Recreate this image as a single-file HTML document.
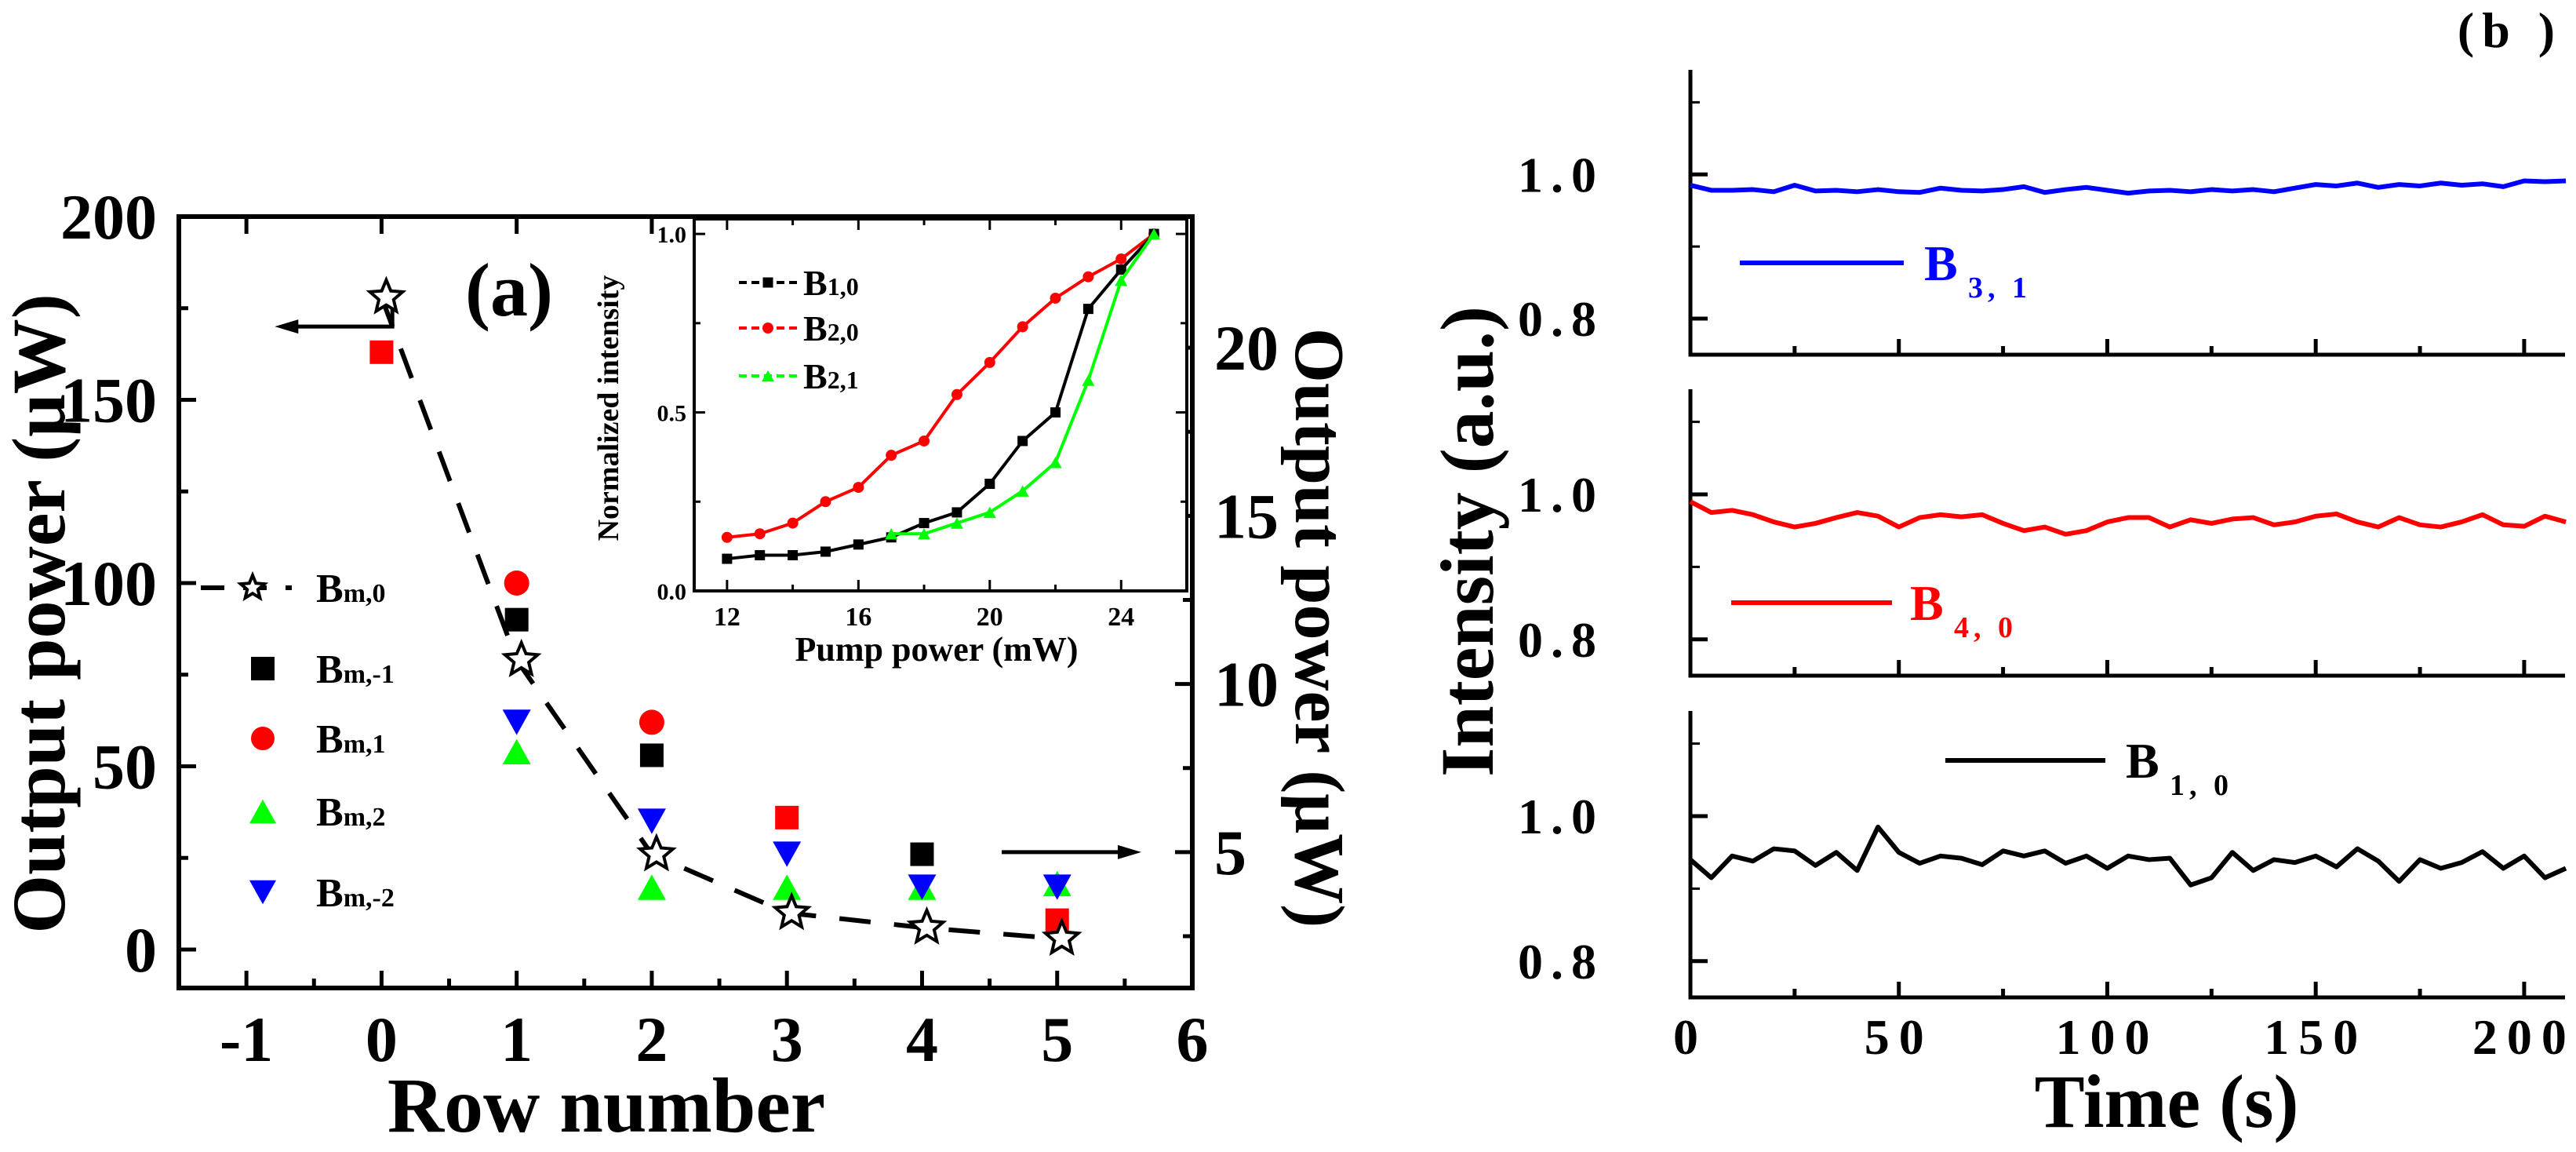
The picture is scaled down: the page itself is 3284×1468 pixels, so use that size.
<!DOCTYPE html>
<html><head><meta charset="utf-8"><style>
html,body{margin:0;padding:0;background:#fff;}
svg{display:block;font-family:"Liberation Serif",serif;font-weight:bold;}
</style></head><body>
<svg id="fig" width="3284" height="1468" viewBox="0 0 3284 1468" xmlns="http://www.w3.org/2000/svg">
<g id="pa"></g>
<g id="inset"></g>
<g id="pb"></g>
</svg>
<script>
// ---- Panel (a) data ----
const rowsStar = [0,1,2,3,4,5];
const starVals = [178,79,26,10,6,3];
const rowsBlackSq = [1,2,4];
const blackSqVals = [90,53,26];
const rowsRedSq = [0,3,5];
const redSqVals = [163,36,8];
const rowsRedCirc = [1,2];
const redCircVals = [100,62];
const rowsGreen = [1,2,3,4,5];
const greenVals = [54,17,17,17,18];
const rowsBlue = [1,2,3,4,5];
const blueVals = [62,35,26,17,17];
const xTicksA = [-1,0,1,2,3,4,5,6];
const yTicksA = [0,50,100,150,200];
const yTicksRight = [5,10,15,20];
// ---- Inset data ----
const pumpB10 = [12,13,14,15,16,17,18,19,20,21,22,23,24,25];
const valsB10 = [0.09,0.10,0.10,0.11,0.13,0.15,0.19,0.22,0.30,0.42,0.50,0.79,0.90,1.0];
const pumpB20 = [12,13,14,15,16,17,18,19,20,21,22,23,24,25];
const valsB20 = [0.15,0.16,0.19,0.25,0.29,0.38,0.42,0.55,0.64,0.74,0.82,0.88,0.93,1.0];
const pumpB21 = [17,18,19,20,21,22,23,24,25];
const valsB21 = [0.16,0.16,0.19,0.22,0.28,0.36,0.59,0.87,1.0];
const insetXTicks = [12,16,20,24];
const insetYTicks = ["0.0","0.5","1.0"];
// ---- Panel (b) data ----
const timeStep = 5;
const blueTrace = [0.985,0.978,0.978,0.979,0.976,0.985,0.977,0.978,0.976,0.979,0.976,0.975,0.981,0.978,0.977,0.979,0.983,0.975,0.979,0.982,0.978,0.974,0.977,0.978,0.976,0.979,0.977,0.979,0.976,0.981,0.986,0.984,0.988,0.982,0.986,0.984,0.988,0.985,0.987,0.983,0.991,0.990,0.991];
const redTrace = [0.99,0.975,0.978,0.972,0.962,0.955,0.960,0.968,0.975,0.970,0.955,0.968,0.972,0.969,0.972,0.960,0.950,0.955,0.945,0.950,0.962,0.968,0.968,0.955,0.965,0.960,0.966,0.968,0.958,0.962,0.970,0.973,0.962,0.955,0.968,0.958,0.955,0.962,0.972,0.958,0.956,0.970,0.962];
const blackTrace = [0.94,0.915,0.945,0.938,0.955,0.952,0.932,0.950,0.925,0.985,0.950,0.935,0.945,0.942,0.933,0.952,0.945,0.952,0.935,0.945,0.928,0.945,0.940,0.942,0.905,0.915,0.950,0.925,0.940,0.936,0.945,0.930,0.955,0.938,0.910,0.940,0.928,0.936,0.951,0.928,0.945,0.915,0.928];
const timeTicks = [0,50,100,150,200];
const intTicks = ["0.8","1.0"];

const NS="http://www.w3.org/2000/svg";
function mk(parent,tag,attrs,text){const e=document.createElementNS(NS,tag);for(const k in attrs)e.setAttribute(k,attrs[k]);if(text!==undefined)e.textContent=text;parent.appendChild(e);return e;}

// ===== Panel a =====
const pa=document.getElementById('pa');
const A={l:228,r:1520,t:276,b:1259,x0:-1.5,x1:6,y0:-10.5,y1:200};
const ax=v=>A.l+(v-A.x0)/(A.x1-A.x0)*(A.r-A.l);
const ay=v=>A.b-(v-A.y0)/(A.y1-A.y0)*(A.b-A.t);
const ayR=v=>A.b-(v-0.96)/(23.9-0.96)*(A.b-A.t);
let e=mk(pa,'rect',{x:A.l,y:A.t,width:A.r-A.l,height:A.b-A.t,fill:'none',stroke:'#000','stroke-width':6});


for(const t of xTicksA){
 e=mk(pa,'line',{x1:ax(t),x2:ax(t),y1:A.b,y2:A.b-22,stroke:'#000','stroke-width':5});
 
 
 e=mk(pa,'line',{x1:ax(t),x2:ax(t),y1:A.t,y2:A.t+22,stroke:'#000','stroke-width':5});
 
 
 if(t<6){e=mk(pa,'line',{x1:ax(t+0.5),x2:ax(t+0.5),y1:A.b,y2:A.b-12,stroke:'#000','stroke-width':5});
 
 }
 e=mk(pa,'text',{x:ax(t),y:1352,'font-size':82,'text-anchor':'middle'},String(t));
 
 
}
for(const t of yTicksA){
 e=mk(pa,'line',{x1:A.l,x2:A.l+22,y1:ay(t),y2:ay(t),stroke:'#000','stroke-width':5});
 
 
 if(t<200){e=mk(pa,'line',{x1:A.l,x2:A.l+12,y1:ay(t+25),y2:ay(t+25),stroke:'#000','stroke-width':5});
 
 }
 e=mk(pa,'text',{x:200,y:ay(t)+28,'font-size':82,'text-anchor':'end'},String(t));
 
 
}
for(const t of yTicksRight){
 e=mk(pa,'line',{x1:A.r,x2:A.r-22,y1:ayR(t),y2:ayR(t),stroke:'#000','stroke-width':5});
 
 
 e=mk(pa,'line',{x1:A.r,x2:A.r-12,y1:ayR(t-2.5),y2:ayR(t-2.5),stroke:'#000','stroke-width':5});
 
 
 e=mk(pa,'text',{x:1548,y:ayR(t)+28,'font-size':82,'text-anchor':'start'},String(t));
 
 
}
e=mk(pa,'text',{x:773,y:1442,'font-size':100,'text-anchor':'middle'},'Row number');


e=mk(pa,'text',{x:0,y:0,'font-size':96,'text-anchor':'middle',transform:'translate(82,782) rotate(-90)'},'Output power (μW)');


e=mk(pa,'text',{x:649,y:402,'font-size':96,'text-anchor':'middle'},'(a)');



function star(g,cx,cy,r,name){
 let p='';for(let i=0;i<10;i++){const rr=i%2?r*0.45:r;const a=-Math.PI/2+i*Math.PI/5;p+=(i?'L':'M')+(cx+rr*Math.cos(a)).toFixed(1)+','+(cy+rr*Math.sin(a)).toFixed(1);}
 const s=mk(g,'path',{d:p+'Z',fill:'#fff',stroke:'#000','stroke-width':4});
 
 
}
function sq(g,cx,cy,s,c,name){const el=mk(g,'rect',{x:cx-s/2,y:cy-s/2,width:s,height:s,fill:c});}
function circ(g,cx,cy,r,c,name){const el=mk(g,'circle',{cx:cx,cy:cy,r:r,fill:c});}
function tri(g,cx,cy,s,c,up,name){const h=s*0.9;const d=up?`M${cx},${cy-h/2}L${cx+s/2},${cy+h/2}L${cx-s/2},${cy+h/2}Z`:`M${cx},${cy+h/2}L${cx+s/2},${cy-h/2}L${cx-s/2},${cy-h/2}Z`;const el=mk(g,'path',{d:d,fill:c});}

// dashed line through stars
let dpts=rowsStar.map((r,i)=>ax(r)+','+ay(starVals[i])).join(' ');
e=mk(pa,'polyline',{points:dpts,fill:'none',stroke:'#000','stroke-width':6,'stroke-dasharray':'40,30'});


// arrows
e=mk(pa,'path',{d:`M${ax(0.08)},${ay(178)} L${ax(0.08)},${ay(170)} L${ax(-0.72)},${ay(170)}`,fill:'none',stroke:'#000','stroke-width':5});


e=mk(pa,'path',{d:`M${ax(-0.79)},${ay(170)} l30,-9 l0,18 Z`,fill:'#000'});


e=mk(pa,'line',{x1:1277,x2:1425,y1:ayR(5),y2:ayR(5),stroke:'#000','stroke-width':5});


e=mk(pa,'path',{d:`M1455,${ayR(5)} l-30,-9 l0,18 Z`,fill:'#000'});



rowsRedSq.forEach((r,i)=>sq(pa,ax(r),ay(redSqVals[i]),30,'#f00','bm1-square'));
rowsBlackSq.forEach((r,i)=>sq(pa,ax(r),ay(blackSqVals[i]),30,'#000','bm-1-point'));
rowsRedCirc.forEach((r,i)=>circ(pa,ax(r),ay(redCircVals[i]),16,'#f00','bm1-point'));
rowsGreen.forEach((r,i)=>tri(pa,ax(r),ay(greenVals[i]),36,'#0f0',true,'bm2-point'));
rowsBlue.forEach((r,i)=>tri(pa,ax(r),ay(blueVals[i]),36,'#00f',false,'bm-2-point'));
rowsStar.forEach((r,i)=>star(pa,ax(r)+6,ay(starVals[i]),22,'bm0-point'));

// legend a
const lgY=[749,852,941,1034,1137];
const lgN=['m,0','m,-1','m,1','m,2','m,-2'];
e=mk(pa,'line',{x1:256,x2:372,y1:lgY[0],y2:lgY[0],stroke:'#000','stroke-width':6,'stroke-dasharray':'30,24'});


star(pa,322,lgY[0],16,'legend-marker-bm0');
sq(pa,335,lgY[1],30,'#000','legend-marker-bm-1');
circ(pa,335,lgY[2],15,'#f00','legend-marker-bm1');
tri(pa,335,lgY[3],34,'#0f0',true,'legend-marker-bm2');
tri(pa,335,lgY[4],34,'#00f',false,'legend-marker-bm-2');
lgN.forEach((n,i)=>{const t=mk(pa,'text',{x:403,y:lgY[i]+18,'font-size':52},'B');mk(t,'tspan',{'font-size':34},n);
 
 });

// ===== Inset =====
const ig=document.getElementById('inset');
const I={l:885,r:1513,t:279,b:753,x0:11,x1:26,y0:0,y1:1.042};
const ix=v=>I.l+(v-I.x0)/(I.x1-I.x0)*(I.r-I.l);
const iy=v=>I.b-(v-I.y0)/(I.y1-I.y0)*(I.b-I.t);
e=mk(ig,'rect',{x:I.l,y:I.t,width:I.r-I.l,height:I.b-I.t,fill:'#fff',stroke:'#000','stroke-width':4});


for(let v=12;v<=26;v+=2){const big=insetXTicks.includes(v);
 e=mk(ig,'line',{x1:ix(v),x2:ix(v),y1:I.b,y2:I.b-(big?14:8),stroke:'#000','stroke-width':3});
 
 
 e=mk(ig,'line',{x1:ix(v),x2:ix(v),y1:I.t,y2:I.t+(big?14:8),stroke:'#000','stroke-width':3});
 
 }
insetXTicks.forEach(v=>{e=mk(ig,'text',{x:ix(v),y:797,'font-size':34,'text-anchor':'middle'},String(v));
 
 });
for(let v=0;v<=1.0001;v+=0.25){const big=Math.abs(v*2-Math.round(v*2))<0.01;
 e=mk(ig,'line',{x1:I.l,x2:I.l+(big?14:8),y1:iy(v),y2:iy(v),stroke:'#000','stroke-width':3});
 
 
 e=mk(ig,'line',{x1:I.r,x2:I.r-(big?14:8),y1:iy(v),y2:iy(v),stroke:'#000','stroke-width':3});
 
 }
insetYTicks.forEach(s=>{e=mk(ig,'text',{x:875,y:iy(parseFloat(s))+11,'font-size':30,'text-anchor':'end'},s);
 
 });
e=mk(ig,'text',{x:1194,y:842,'font-size':44,'text-anchor':'middle'},'Pump power (mW)');


e=mk(ig,'text',{x:0,y:0,'font-size':38,'text-anchor':'middle',transform:'translate(788,520) rotate(-90)'},'Normalized intensity');


function iseries(xs,ys,c,kind,name){
 const l=mk(ig,'polyline',{points:xs.map((x,i)=>ix(x)+','+iy(ys[i])).join(' '),fill:'none',stroke:c,'stroke-width':4});
 
 
 xs.forEach((x,i)=>{if(kind==='s')sq(ig,ix(x),iy(ys[i]),13,c,name+'-point');else if(kind==='c')circ(ig,ix(x),iy(ys[i]),7,c,name+'-point');else tri(ig,ix(x),iy(ys[i]),16,c,true,name+'-point');});
}
iseries(pumpB20,valsB20,'#f00','c','b20');
iseries(pumpB10,valsB10,'#000','s','b10');
iseries(pumpB21,valsB21,'#0f0','t','b21');
const ilY=[360,418,479];const ilC=['#000','#f00','#0f0'];const ilK=['s','c','t'];const ilN=['1,0','2,0','2,1'];
ilY.forEach((y,i)=>{e=mk(ig,'line',{x1:942,x2:1016,y1:y,y2:y,stroke:ilC[i],'stroke-width':4,'stroke-dasharray':'10,6'});
 
 
 if(ilK[i]==='s')sq(ig,979,y,13,ilC[i],'inset-legend-marker');else if(ilK[i]==='c')circ(ig,979,y,7,ilC[i],'inset-legend-marker');else tri(ig,979,y,16,ilC[i],true,'inset-legend-marker');
 const t=mk(ig,'text',{x:1024,y:y+16,'font-size':46},'B');mk(t,'tspan',{'font-size':32},ilN[i]);
 
 });

// ===== Panel b =====
const pb=document.getElementById('pb');
const B={l:2155,r:3270,x0:0,x1:209.8,y0:0.75,y1:1.145};
const subs=[{t:89,b:452,d:blueTrace,c:'#00f',n:'b31'},{t:496,b:861,d:redTrace,c:'#f00',n:'b40'},{t:906,b:1271,d:blackTrace,c:'#000',n:'b10'}];
const bx=v=>B.l+(v-B.x0)/(B.x1-B.x0)*(B.r-B.l);
subs.forEach((s,k)=>{
 const by=v=>s.b-(v-B.y0)/(B.y1-B.y0)*(s.b-s.t);
 e=mk(pb,'path',{d:`M${B.l},${s.t} L${B.l},${s.b} L${B.r},${s.b}`,fill:'none',stroke:'#000','stroke-width':5});
 
 
 for(let v=0;v<=200;v+=25){e=mk(pb,'line',{x1:bx(v),x2:bx(v),y1:s.b,y2:s.b-(v%50===0?20:11),stroke:'#000','stroke-width':5});
  
  }
 for(let v=0.8;v<=1.11;v+=0.1){const big=Math.abs(v-0.8)<0.01||Math.abs(v-1.0)<0.01;
  e=mk(pb,'line',{x1:B.l,x2:B.l+(big?22:12),y1:by(v),y2:by(v),stroke:'#000','stroke-width':big?5:3});
  
  }
 intTicks.forEach(tl=>{e=mk(pb,'text',{x:2045,y:by(parseFloat(tl))+22,'font-size':64,'text-anchor':'end','letter-spacing':10},tl);
  
  });
 const pts=s.d.map((v,i)=>bx(i*timeStep)+','+by(v)).join(' ');
 e=mk(pb,'polyline',{points:pts,fill:'none',stroke:s.c,'stroke-width':6,'stroke-linejoin':'round'});
 
 
});
timeTicks.forEach(v=>{e=mk(pb,'text',{x:bx(v),y:1343,'font-size':64,'text-anchor':'middle','letter-spacing':12},String(v));
 
 });
e=mk(pb,'text',{x:2762,y:1436,'font-size':96,'text-anchor':'middle'},'Time (s)');


e=mk(pb,'text',{x:0,y:0,'font-size':96,'text-anchor':'middle',transform:'translate(1903,690) rotate(-90)'},'Intensity (a.u.)');


e=mk(pb,'text',{x:0,y:0,'font-size':90,'text-anchor':'middle',transform:'translate(1652,800) rotate(90)'},'Output power (μW)');


e=mk(pb,'text',{x:3200,y:60,'font-size':64,'text-anchor':'middle','letter-spacing':10},'(b )');


const bl=[{x1:2218,x2:2427,y:335,c:'#00f',bx:2453,sub:'3, 1'},{x1:2207,x2:2412,y:768,c:'#f00',bx:2435,sub:'4, 0'},{x1:2480,x2:2684,y:969,c:'#000',bx:2710,sub:'1, 0'}];
bl.forEach(o=>{e=mk(pb,'line',{x1:o.x1,x2:o.x2,y1:o.y,y2:o.y,stroke:o.c,'stroke-width':6});
 
 
 e=mk(pb,'text',{x:o.bx,y:o.y+22,'font-size':64,fill:o.c},'B');
 
 
 e=mk(pb,'text',{x:o.bx+56,y:o.y+44,'font-size':38,fill:o.c,'letter-spacing':6},o.sub);
 
 });
</script>
</body></html>
